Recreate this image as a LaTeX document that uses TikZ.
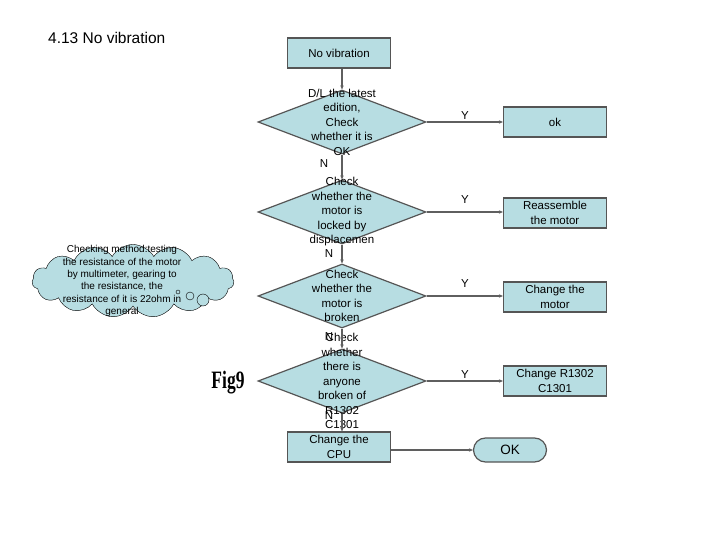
\documentclass[tikz,border=0pt]{standalone}
\usepackage{fontspec}
\setmainfont{Liberation Sans}
\newfontfamily\figfont{Liberation Serif}
\usetikzlibrary{shapes.geometric,shapes.symbols,arrows.meta}

\definecolor{boxfill}{RGB}{183,221,226}
\definecolor{boxline}{RGB}{85,85,85}
\definecolor{linkgray}{RGB}{95,95,95}

\begin{document}
\begin{tikzpicture}[
x=1pt,y=-1pt,
box/.style={
  draw=boxline,
  fill=boxfill,
  line width=1.2pt,
  minimum width=103pt,
  minimum height=30pt,
  inner sep=0pt,
  align=center,
  font=\fontsize{11.5}{14.5}\selectfont
  },
test/.style={
  diamond,
  draw=boxline,
  fill=boxfill,
  line width=1.2pt,
  minimum width=168pt,
  minimum height=64pt,
  inner sep=0pt
  },
words/.style={
  align=center,
  inner sep=0pt,
  font=\fontsize{11.5}{14.5}\selectfont
  },
link/.style={
  draw=linkgray,
  line width=1.2pt,
  ->
  },
>={Stealth[length=4pt,width=3.5pt]}
]
\useasboundingbox (0,0) rectangle (720,540);

\node[anchor=west, inner sep=0pt, font=\fontsize{15.5}{18}\selectfont] (title) at (48,38) {4.13 No vibration};

% main column
\node[box] (start) at (339,53) {No vibration};
\foreach \i/\yy in {1/122,2/212,3/296,4/381}
  \node[test] (t\i) at (342,\yy) {};
\node[words] (q1) at (t1) {D/L the latest\\edition,\\Check\\whether it is\\OK};
\node[words] (q2) at (t2) {Check\\whether the\\motor is\\locked by\\displacemen};
\node[words] (q3) at (t3) {Check\\whether the\\motor is\\broken};
\node[words] (q4) at (t4) {Check\\whether\\there is\\anyone\\broken of\\R1302\\C1301};
\node[box] (cpu) at (339,447) {Change the\\CPU};
\node[box, rounded corners=12pt, minimum width=73pt, minimum height=24pt,
  font=\fontsize{13.5}{15}\selectfont] (done) at (510,450) {OK};

% answers
\node[box] (r1) at (555,122) {ok};
\node[box] (r2) at (555,213) {Reassemble\\the motor};
\node[box] (r3) at (555,297) {Change the\\motor};
\node[box] (r4) at (555,381) {Change R1302\\C1301};

\draw[link] (t1.north |- start.south) -- (t1.north);
\foreach \i [count=\j from 2] in {1,2,3}
  \draw[link] (t\i) -- (t\j);
\draw[link] (t4.south) -- (t4.south |- cpu.north);
\draw[link] (cpu.east |- done.west) -- (done.west);
\foreach \i in {1,...,4}
  \draw[link] (t\i.east) -- (r\i.west |- t\i.east);

\foreach \i/\yy in {1/116,2/200,3/284,4/375}
  \node[words] (y\i) at (465,\yy) {Y};
\foreach \i/\xx/\yy in {1/324/164,2/329/254,3/329/337,4/329/416}
  \node[words] (n\i) at (\xx,\yy) {N};

% note
\node[cloud, cloud puffs=15, cloud puff arc=120, draw=black, fill=boxfill,
  minimum width=202pt, minimum height=73pt, inner sep=0pt] (note) at (133,281) {};
\node[words, font=\fontsize{10}{12.3}\selectfont] (notetext) at (122,281)
  {Checking method:testing\\the resistance of the motor\\by multimeter, gearing to\\the resistance, the\\resistance of it is 22ohm in\\general};
\foreach \xx/\yy/\rr in {178/292/2,190/296/4,203/300/6}
  \draw[fill=boxfill] (\xx,\yy) circle (\rr);

\node[inner sep=0pt, font=\figfont\bfseries\fontsize{25}{25}\selectfont] (fig) at (228,383)
  {\scalebox{0.7}[1]{Fig9}};
\end{tikzpicture}
\end{document}
